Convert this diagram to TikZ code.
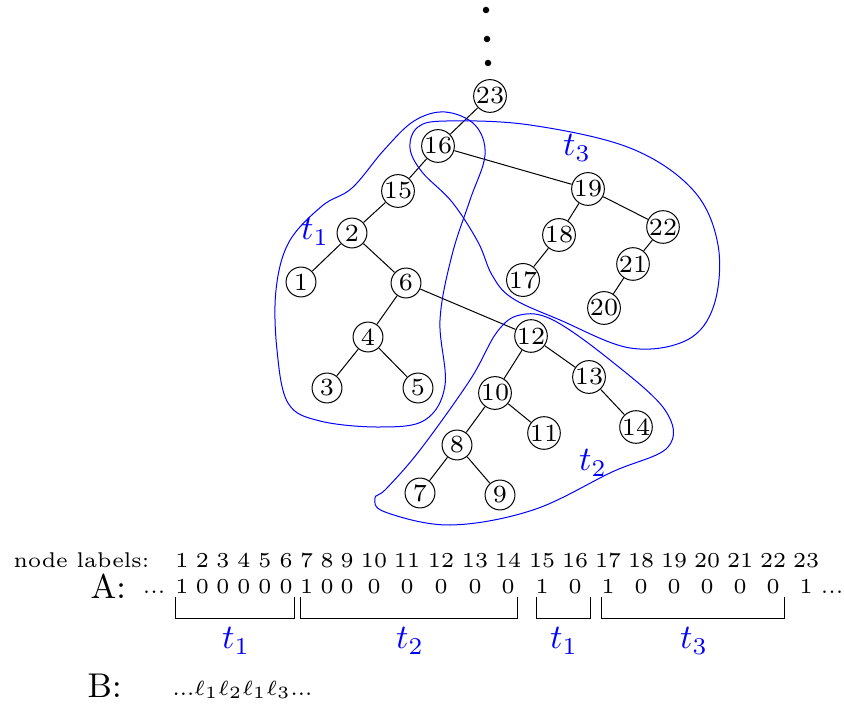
\documentclass[tikz,border=0pt]{standalone}
\usepackage{amsmath,amssymb}
\usepackage{tikz}
\tikzset{
  vtx/.style    = {circle, draw, inner sep=0pt, minimum size=8.7pt,
                   font=\fontsize{7.2}{8}\selectfont},
  lab/.style    = {inner sep=0pt, font=\fontsize{6.2}{7.2}\selectfont},
  tname/.style  = {blue, inner sep=0pt, font=\fontsize{10}{12}\selectfont},
  arrname/.style= {inner sep=0pt, font=\fontsize{10}{12}\selectfont},
  region/.style = {draw=blue, smooth cycle, tension=0.6},
}

\begin{document}
\begin{tikzpicture}[x=0.4pt, y=-0.4pt, every node/.style={scale=1.374}]
\useasboundingbox (0,0) rectangle (844,704);

%% dots above the root
\fill (486,10) circle (1.3pt);
\fill (487,39) circle (1.3pt);
\fill (488,63) circle (1.3pt);

%% tree
\node[vtx] (n23) at (490,96)  {23};
\node[vtx] (n16) at (438,146) {16};
\node[vtx] (n15) at (398,191) {15};
\node[vtx] (n2)  at (352,233) {2};
\node[vtx] (n1)  at (301,282) {1};
\node[vtx] (n6)  at (406,283) {6};
\node[vtx] (n4)  at (368,337) {4};
\node[vtx] (n3)  at (327,388) {3};
\node[vtx] (n5)  at (418,388) {5};
\node[vtx] (n12) at (531,336) {12};
\node[vtx] (n13) at (589,377) {13};
\node[vtx] (n14) at (636,427) {14};
\node[vtx] (n10) at (495,393) {10};
\node[vtx] (n11) at (544,433) {11};
\node[vtx] (n8)  at (457,445) {8};
\node[vtx] (n7)  at (420,493) {7};
\node[vtx] (n9)  at (500,495) {9};
\node[vtx] (n19) at (588,189) {19};
\node[vtx] (n18) at (559,235) {18};
\node[vtx] (n17) at (523,280) {17};
\node[vtx] (n22) at (663,227) {22};
\node[vtx] (n21) at (633,264) {21};
\node[vtx] (n20) at (604,308) {20};

\draw (n23) -- (n16);
\draw (n16) -- (n15);
\draw (n16) -- (n19);
\draw (n15) -- (n2);
\draw (n2)  -- (n1);
\draw (n2)  -- (n6);
\draw (n6)  -- (n4);
\draw (n6)  -- (n12);
\draw (n4)  -- (n3);
\draw (n4)  -- (n5);
\draw (n12) -- (n10);
\draw (n12) -- (n13);
\draw (n13) -- (n14);
\draw (n10) -- (n8);
\draw (n10) -- (n11);
\draw (n8)  -- (n7);
\draw (n8)  -- (n9);
\draw (n19) -- (n18);
\draw (n19) -- (n22);
\draw (n18) -- (n17);
\draw (n22) -- (n21);
\draw (n21) -- (n20);

%% subtrees t1, t2, t3
\draw[region] plot coordinates {(276,290) (289,242) (322,206) (352,188)
  (384,150) (414,121) (445,112) (475,125) (485,155) (470,200) (452,255)
  (440,320) (445,385) (425,420) (380,427) (320,421) (288,403) (277,350)};
\draw[region] plot coordinates {(418,127) (447,121) (530,125)
  (630,148) (693,190) (718,245) (714,305) (687,340) (630,348) (560,320)
  (512,298) (492,275) (478,242) (452,202) (422,172) (410,148)};
\draw[region] plot coordinates {(497,332) (520,315) (553,320) (610,360)
  (665,410) (668,447) (612,472) (533,510) (450,525) (385,512) (375,498)
  (386,489) (420,450) (470,380)};

\node[tname] (t1) at (315,232) {$t_1$};
\node[tname] (t3) at (577,148) {$t_3$};
\node[tname] (t2) at (593,463) {$t_2$};

%% arrays
\node[lab, anchor=base west] (nl) at (13,567) {node labels:};
\node[arrname, anchor=base west] (A) at (90,598) {A:};
\node[arrname, anchor=base west] (B) at (87,697) {B:};
\node[lab, anchor=base] (dl) at (154,593) {...};
\node[lab, anchor=base] (dr) at (832,593) {...};

\foreach \x/\l/\v in {182/1/1, 202.5/2/0, 223/3/0, 244/4/0, 265/5/0,
    286/6/0, 306.5/7/1, 327/8/0, 347/9/0, 374/10/0, 407/11/0, 441/12/0,
    475/13/0, 508/14/0, 542/15/1, 575/16/0, 608/17/1, 641/18/0, 674/19/0,
    707/20/0, 740/21/0, 773/22/0, 806/23/1} {
  \node[lab, anchor=base] (l\l) at (\x,567) {\l};
  \node[lab, anchor=base] (v\l) at (\x,593) {\v};
}

%% brackets
\draw (175,597) -- (175,618) -- (294,618) -- (294,597);
\draw (300,597) -- (300,618) -- (517,618) -- (517,597);
\draw (536,597) -- (536,618) -- (590,618) -- (590,597);
\draw (601,597) -- (601,618) -- (784,618) -- (784,597);

\node[tname] (b1) at (236,641) {$t_1$};
\node[tname] (b2) at (410,641) {$t_2$};
\node[tname] (b3) at (564,641) {$t_1$};
\node[tname] (b4) at (694,641) {$t_3$};

\node[anchor=base west, inner sep=0pt, font=\fontsize{6.5}{7.5}\selectfont]
  (seq) at (172,695) {...$\ell_1\ell_2\ell_1\ell_3$...};

\end{tikzpicture}
\end{document}
